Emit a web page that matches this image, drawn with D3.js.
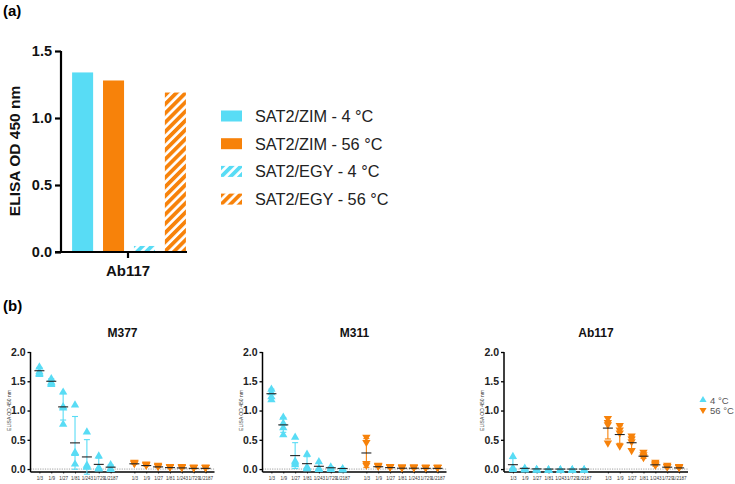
<!DOCTYPE html>
<html>
<head>
<meta charset="utf-8">
<script src="https://d3js.org/d3.v7.min.js"></script>
<style>
  body { margin: 0; background: #fff; }
  svg { font-family: "Liberation Sans", Arial, sans-serif; }
</style>
</head>
<body>
<div id="chart"></div>
<script>
// Panel (a) data
const barGroups = ["SAT2/ZIM - 4 °C", "SAT2/ZIM - 56 °C", "SAT2/EGY - 4 °C", "SAT2/EGY - 56 °C"];
const barValues = [1.34, 1.28, 0.045, 1.19];
const barCategory = "Ab117";
const yTicksA = [0, 0.5, 1.0, 1.5];

// Panel (b) data: replicate OD values per dilution
const dilutions = ["1/3", "1/9", "1/27", "1/81", "1/243", "1/729", "1/2187"];
const antibodies = ["M377", "M311", "Ab117"];
const tempLabels = ["4 °C", "56 °C"];

const m377Cold = [[1.63, 1.65, 1.68, 1.76], [1.46, 1.48, 1.50, 1.56], [1.33, 1.08, 1.06, 0.78], [1.11, 0.30, 0.28, 0.10],
                  [0.65, 0.08, 0.05, 0.05], [0.24, 0.04, 0.02, 0.02], [0.09, 0.02, 0.01, 0.01]];
const m377Hot  = [[0.10, 0.09, 0.09, 0.08], [0.07, 0.06, 0.06, 0.05], [0.05, 0.04, 0.03, 0.03], [0.03, 0.03, 0.02, 0.02],
                  [0.03, 0.02, 0.02, 0.01], [0.02, 0.01, 0.01, 0.01], [0.02, 0.01, 0.01, 0.01]];
const m311Cold = [[1.38, 1.32, 1.25, 1.20], [0.90, 0.80, 0.72, 0.60], [0.56, 0.15, 0.12, 0.09], [0.27, 0.05, 0.03, 0.02],
                  [0.14, 0.02, 0.02, 0.01], [0.05, 0.02, 0.01, 0.01], [0.02, 0.01, 0.01, 0.00]];
const m311Hot  = [[0.53, 0.44, 0.08, 0.05], [0.05, 0.04, 0.04, 0.03], [0.03, 0.03, 0.02, 0.02], [0.02, 0.02, 0.01, 0.01],
                  [0.02, 0.02, 0.01, 0.01], [0.02, 0.01, 0.01, 0.01], [0.02, 0.01, 0.01, 0.01]];
const ab117Cold = [[0.23, 0.04, 0.02, 0.01], [0.03, 0.01, 0.01, 0.00], [0.01, 0.00, 0.00, 0.00], [0.00, 0.00, 0.00, 0.00],
                   [0.00, 0.00, 0.00, 0.00], [0.00, 0.00, 0.00, 0.00], [0.00, 0.00, 0.00, 0.00]];
const ab117Hot  = [[0.85, 0.78, 0.74, 0.43], [0.73, 0.65, 0.60, 0.38], [0.55, 0.50, 0.45, 0.30], [0.27, 0.23, 0.20, 0.18],
                   [0.10, 0.08, 0.06, 0.05], [0.05, 0.03, 0.03, 0.02], [0.03, 0.02, 0.02, 0.01]];
const yTicksB = [0, 0.5, 1.0, 1.5, 2.0];

const panelData = [[m377Cold, m377Hot], [m311Cold, m311Hot], [ab117Cold, ab117Hot]];

const CYAN = "#58dcf5";
const ORANGE = "#f7820a";

const svg = d3.select("#chart").append("svg")
    .attr("width", 735).attr("height", 484);

// hatch patterns
const defs = svg.append("defs");
[["hatchCyan", CYAN], ["hatchOrange", ORANGE]].forEach(([id, col]) => {
    const p = defs.append("pattern")
        .attr("id", id)
        .attr("patternUnits", "userSpaceOnUse")
        .attr("width", 6.5).attr("height", 6.5)
        .attr("patternTransform", "rotate(45)");
    p.append("rect").attr("width", 6.5).attr("height", 6.5).attr("fill", "#fff");
    p.append("rect").attr("width", 3.8).attr("height", 6.5).attr("fill", col);
});
const barFills = [CYAN, ORANGE, "url(#hatchCyan)", "url(#hatchOrange)"];

// ---------- Panel (a) ----------
svg.append("text").attr("x", 3).attr("y", 16)
    .attr("font-size", 15).attr("font-weight", "bold").text("(a)");

const ax0 = 61, ax1 = 187;
const yA = d3.scaleLinear().domain([0, 1.5]).range([252, 51]);
const xA = d3.scaleBand().domain(barGroups).range([ax0 + 8, ax1 + 2]).paddingInner(0.32).paddingOuter(0.1);

const gA = svg.append("g");
gA.selectAll("rect.bar").data(barGroups).enter().append("rect")
    .attr("class", "bar")
    .attr("x", d => xA(d))
    .attr("width", xA.bandwidth())
    .attr("y", (d, i) => yA(barValues[i]))
    .attr("height", (d, i) => yA(0) - yA(barValues[i]))
    .attr("fill", (d, i) => barFills[i]);

const yAxisA = gA.append("g").attr("transform", `translate(${ax0},0)`)
    .call(d3.axisLeft(yA).tickValues(yTicksA).tickFormat(d3.format(".1f")).tickSize(6).tickPadding(3));
yAxisA.select(".domain").attr("stroke-width", 2.2).attr("d", `M0,${yA(1.5)}V${yA(0)}`);
yAxisA.selectAll(".tick line").attr("stroke-width", 2.2);
yAxisA.selectAll("text").attr("font-size", 14.5).attr("font-weight", "bold").attr("fill", "#111")
    .attr("font-family", "Liberation Sans, Arial, sans-serif");

const xAxisA = gA.append("g").attr("transform", `translate(0,${yA(0)})`);
xAxisA.append("line").attr("x1", ax0 - 6).attr("x2", ax1).attr("stroke", "#000").attr("stroke-width", 2.2);
xAxisA.append("line").attr("x1", 128).attr("x2", 128).attr("y1", 0).attr("y2", 6)
    .attr("stroke", "#000").attr("stroke-width", 2.2);
xAxisA.append("text").attr("x", 128).attr("y", 24).attr("text-anchor", "middle")
    .attr("font-size", 15).attr("font-weight", "bold").attr("fill", "#111").text(barCategory);

svg.append("text").attr("transform", "translate(20,151) rotate(-90)")
    .attr("text-anchor", "middle").attr("font-size", 15.5).attr("font-weight", "bold")
    .attr("fill", "#111").text("ELISA OD 450 nm");

// legend (a)
const legA = svg.append("g");
barGroups.forEach((g, i) => {
    const y = 116 + i * 27.7;
    legA.append("rect").attr("x", 221).attr("y", y - 5.5).attr("width", 21).attr("height", 11)
        .attr("fill", barFills[i]);
    legA.append("text").attr("x", 255).attr("y", y + 6).attr("font-size", 16.3)
        .attr("fill", "#222").text(g);
});

// ---------- Panel (b) ----------
svg.append("text").attr("x", 3).attr("y", 311)
    .attr("font-size", 15).attr("font-weight", "bold").text("(b)");

const panelX = [30.5, 262.5, 504];
const panelW = 184;
const yB = d3.scaleLinear().domain([-0.05, 2.0]).range([472, 352]);
const slots = [];
dilutions.forEach((d, i) => slots.push("c" + i));
slots.push("gap");
dilutions.forEach((d, i) => slots.push("h" + i));

const triUp = d3.symbol().type(d3.symbolTriangle).size(30);

antibodies.forEach((name, pi) => {
    const x0 = panelX[pi];
    const xB = d3.scalePoint().domain(slots).range([x0, x0 + panelW]).padding(0.75);
    const g = svg.append("g");

    g.append("text").attr("x", x0 + panelW / 2).attr("y", 337).attr("text-anchor", "middle")
        .attr("font-size", 12).attr("font-weight", "bold").attr("fill", "#111").text(name);

    // dotted zero line
    g.append("line").attr("x1", x0).attr("x2", x0 + panelW).attr("y1", yB(0)).attr("y2", yB(0))
        .attr("stroke", "#888").attr("stroke-width", 0.8).attr("stroke-dasharray", "1.2,1.2");

    const yAx = g.append("g").attr("transform", `translate(${x0},0)`)
        .call(d3.axisLeft(yB).tickValues(yTicksB).tickFormat(d3.format(".1f")).tickSize(3).tickPadding(2));
    yAx.select(".domain").attr("stroke-width", 1.5).attr("d", `M0,${yB(2)}V${yB(-0.05)}`);
    yAx.selectAll(".tick line").attr("stroke-width", 1.3);
    yAx.selectAll("text").attr("font-size", 10.5).attr("font-weight", "bold").attr("fill", "#222")
        .attr("font-family", "Liberation Sans, Arial, sans-serif");

    const xAx = g.append("g").attr("transform", `translate(0,${yB(-0.05)})`)
        .call(d3.axisBottom(xB).tickValues(slots.filter(s => s !== "gap"))
            .tickFormat(s => dilutions[+s.slice(1)]).tickSize(1.5).tickPadding(3));
    xAx.select(".domain").attr("stroke-width", 1.5).attr("d", `M${x0},0H${x0 + panelW}`);
    xAx.selectAll(".tick line").attr("stroke-width", 0.8);
    xAx.selectAll("text").attr("font-size", 4.6).attr("fill", "#333")
        .attr("font-family", "Liberation Sans, Arial, sans-serif");

    g.append("text").attr("transform", `translate(${x0 - 20},${yB(1.0)}) rotate(-90)`)
        .attr("text-anchor", "middle").attr("font-size", 5).attr("fill", "#333").text("ELISA OD 450 nm");

    panelData[pi].forEach((series, si) => {
        const col = si === 0 ? CYAN : ORANGE;
        const prefix = si === 0 ? "c" : "h";
        series.forEach((reps, di) => {
            const cx = xB(prefix + di);
            const m = d3.mean(reps);
            const sd = d3.deviation(reps);
            const eg = g.append("g");
            // error bar
            eg.append("line").attr("x1", cx).attr("x2", cx).attr("y1", yB(m - sd)).attr("y2", yB(m + sd))
                .attr("stroke", col).attr("stroke-width", 1.1);
            [m - sd, m + sd].forEach(v => {
                eg.append("line").attr("x1", cx - 3).attr("x2", cx + 3).attr("y1", yB(v)).attr("y2", yB(v))
                    .attr("stroke", col).attr("stroke-width", 1.1);
            });
            // points
            eg.selectAll("path").data(reps).enter().append("path")
                .attr("d", triUp)
                .attr("transform", v => `translate(${cx},${yB(v) + (si === 0 ? 1 : -1)})` + (si === 1 ? " rotate(180)" : ""))
                .attr("fill", col);
            // mean
            eg.append("line").attr("x1", cx - 5).attr("x2", cx + 5).attr("y1", yB(m)).attr("y2", yB(m))
                .attr("stroke", "#222").attr("stroke-width", 1.1);
        });
    });
});

// legend (b)
const legB = svg.append("g");
tempLabels.forEach((t, i) => {
    const y = 400 + i * 10;
    legB.append("path").attr("d", d3.symbol().type(d3.symbolTriangle).size(22))
        .attr("transform", `translate(703,${y})` + (i === 1 ? " rotate(180)" : ""))
        .attr("fill", i === 0 ? CYAN : ORANGE);
    legB.append("text").attr("x", 710).attr("y", y + 3.5).attr("font-size", 9.5)
        .attr("fill", "#555").text(t);
});
</script>
</body>
</html>
